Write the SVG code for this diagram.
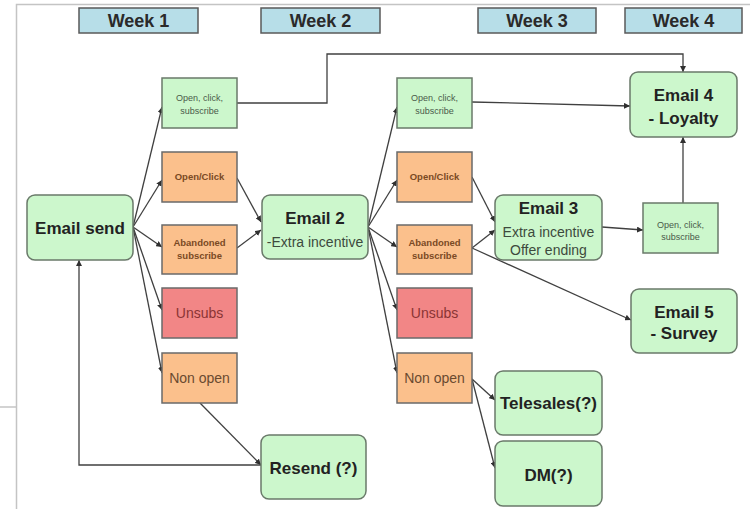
<svg xmlns="http://www.w3.org/2000/svg" width="753" height="509" viewBox="0 0 753 509">
<defs>
<style>
.frame{fill:none;stroke:#c4c4c4;stroke-width:1.5}
.wk{fill:#b7dee8;stroke:#5a5a5a;stroke-width:1.5}
.wkt{font-family:"Liberation Sans",Arial,sans-serif;font-size:18px;font-weight:bold;fill:#2a2a2a;text-anchor:middle}
.g{fill:#ccf7cc;stroke:#6a7a6a;stroke-width:1.5}
.o{fill:#fbc08c;stroke:#6a6a6a;stroke-width:1.5}
.r{fill:#f28686;stroke:#6a6a6a;stroke-width:1.5}
.big{font-family:"Liberation Sans",Arial,sans-serif;font-size:17px;font-weight:bold;fill:#222;text-anchor:middle}
.mid{font-family:"Liberation Sans",Arial,sans-serif;font-size:14px;fill:#3d4a3d;text-anchor:middle}
.sg{font-family:"Liberation Sans",Arial,sans-serif;font-size:9px;fill:#4a5a4a;text-anchor:middle}
.so{font-family:"Liberation Sans",Arial,sans-serif;font-size:9.5px;font-weight:bold;fill:#7a4a24;text-anchor:middle}
.un{font-family:"Liberation Sans",Arial,sans-serif;font-size:14px;fill:#8a3434;text-anchor:middle}
.no{font-family:"Liberation Sans",Arial,sans-serif;font-size:14px;fill:#6a4a30;text-anchor:middle}
.c{fill:none;stroke:#404040;stroke-width:1.3;marker-end:url(#ah)}
</style>
<marker id="ah" markerUnits="userSpaceOnUse" markerWidth="7" markerHeight="6" refX="6" refY="3" orient="auto">
<path d="M0,0 L6,3 L0,6 z" fill="#303030"/>
</marker>
</defs>
<rect width="753" height="509" fill="#fff"/>
<g id="frame">
<path class="frame" d="M16.5,509 V4.5 H750"/>
<path class="frame" d="M0,407 H16"/>
</g>
<g id="weeks">
<g id="week1"><rect class="wk" x="79" y="8" width="119" height="25"/><text class="wkt" x="138.5" y="27">Week 1</text></g>
<g id="week2"><rect class="wk" x="261" y="8" width="119" height="25"/><text class="wkt" x="320.5" y="27">Week 2</text></g>
<g id="week3"><rect class="wk" x="478" y="8" width="118" height="25"/><text class="wkt" x="537" y="27">Week 3</text></g>
<g id="week4"><rect class="wk" x="625" y="8" width="117" height="25"/><text class="wkt" x="683.5" y="27">Week 4</text></g>
</g>
<g id="connectors">
<path class="c" d="M133,227 L162,107"/>
<path class="c" d="M133,227 L162,180"/>
<path class="c" d="M133,227 L162,247"/>
<path class="c" d="M133,227 L162,310"/>
<path class="c" d="M133,227 L162,373"/>
<path class="c" d="M237,178 L261,222"/>
<path class="c" d="M237,248 L261,230"/>
<path class="c" d="M368,227 L397,107"/>
<path class="c" d="M368,227 L397,180"/>
<path class="c" d="M368,227 L397,247"/>
<path class="c" d="M368,227 L397,310"/>
<path class="c" d="M368,227 L397,373"/>
<path class="c" d="M237,103 H327 V54 H683 V72"/>
<path class="c" d="M472,102 L630,106"/>
<path class="c" d="M472,177 L495,222"/>
<path class="c" d="M472,248 L495,230"/>
<path class="c" d="M472,248 L631,320"/>
<path class="c" d="M602,227 L643,230"/>
<path class="c" d="M683,203 V137"/>
<path class="c" d="M200,403 L261,465"/>
<path class="c" d="M261,465 H79 V260"/>
<path class="c" d="M472,379 L495,400"/>
<path class="c" d="M472,379 L495,468"/>
</g>
<g id="email-send"><rect class="g" x="27" y="195" width="106" height="65" rx="8"/><text class="big" x="80" y="234">Email send</text></g>
<g id="w1-open"><rect class="g" x="162" y="78" width="75" height="50"/><text class="sg" x="199.5" y="101">Open, click,</text><text class="sg" x="199.5" y="114">subscribe</text></g>
<g id="w1-openclick"><rect class="o" x="162" y="152" width="75" height="50"/><text class="so" x="199.5" y="180">Open/Click</text></g>
<g id="w1-abandoned"><rect class="o" x="162" y="225" width="75" height="49"/><text class="so" x="199.5" y="246">Abandoned</text><text class="so" x="199.5" y="259">subscribe</text></g>
<g id="w1-unsubs"><rect class="r" x="162" y="288" width="75" height="50"/><text class="un" x="199.5" y="318">Unsubs</text></g>
<g id="w1-nonopen"><rect class="o" x="162" y="353" width="75" height="50"/><text class="no" x="199.5" y="383">Non open</text></g>
<g id="email2"><rect class="g" x="262" y="195" width="106" height="64" rx="8"/><text class="big" x="315" y="224">Email 2</text><text class="mid" x="315" y="247">-Extra incentive</text></g>
<g id="resend"><rect class="g" x="261" y="435" width="105" height="64" rx="8"/><text class="big" x="313.5" y="474">Resend (?)</text></g>
<g id="w3-open"><rect class="g" x="397" y="78" width="75" height="50"/><text class="sg" x="434.5" y="101">Open, click,</text><text class="sg" x="434.5" y="114">subscribe</text></g>
<g id="w3-openclick"><rect class="o" x="397" y="152" width="75" height="50"/><text class="so" x="434.5" y="180">Open/Click</text></g>
<g id="w3-abandoned"><rect class="o" x="397" y="225" width="75" height="49"/><text class="so" x="434.5" y="246">Abandoned</text><text class="so" x="434.5" y="259">subscribe</text></g>
<g id="w3-unsubs"><rect class="r" x="397" y="288" width="75" height="50"/><text class="un" x="434.5" y="318">Unsubs</text></g>
<g id="w3-nonopen"><rect class="o" x="397" y="353" width="75" height="50"/><text class="no" x="434.5" y="383">Non open</text></g>
<g id="email3"><rect class="g" x="495" y="195" width="107" height="65" rx="8"/><text class="big" x="548.5" y="214">Email 3</text><text class="mid" x="548.5" y="237">Extra incentive</text><text class="mid" x="548.5" y="255">Offer ending</text></g>
<g id="w4-open"><rect class="g" x="643" y="203" width="75" height="50"/><text class="sg" x="680.5" y="228">Open, click,</text><text class="sg" x="680.5" y="240">subscribe</text></g>
<g id="email4"><rect class="g" x="630" y="72" width="107" height="65" rx="8"/><text class="big" x="683.5" y="101">Email 4</text><text class="big" x="683.5" y="124">- Loyalty</text></g>
<g id="email5"><rect class="g" x="631" y="289" width="106" height="64" rx="8"/><text class="big" x="684" y="318">Email 5</text><text class="big" x="684" y="339">- Survey</text></g>
<g id="telesales"><rect class="g" x="495" y="371" width="107" height="64" rx="8"/><text class="big" x="548.5" y="409">Telesales(?)</text></g>
<g id="dm"><rect class="g" x="495" y="441" width="107" height="65" rx="8"/><text class="big" x="548.5" y="481">DM(?)</text></g>
</svg>
